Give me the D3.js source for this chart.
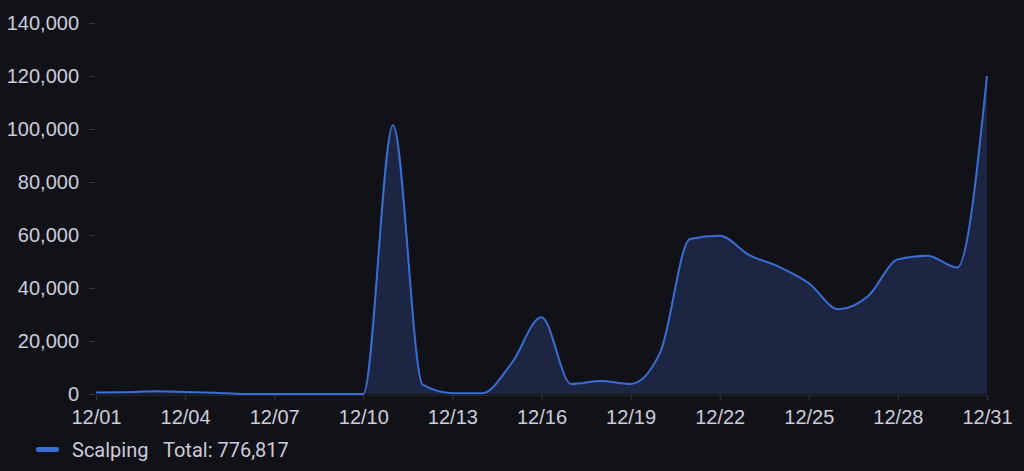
<!DOCTYPE html>
<html><head><meta charset="utf-8">
<script src="https://cdn.jsdelivr.net/npm/d3@7"></script>
<style>
html,body{margin:0;padding:0;background:#111217;}
svg{display:block;font-family:Roboto,Inter,"Noto Sans",sans-serif;}
</style></head>
<body>
<svg id="c" width="1024" height="471"></svg>
<script>
const days = d3.range(1, 32).map(d => "12/" + String(d).padStart(2, "0"));
const scalping = [600, 700, 1000, 800, 500, 0, 0, 0, 0, 0,
  101500, 3500, 300, 300, 11700, 29000, 3800, 4900, 3800, 15800,
  58500, 59700, 52400, 48000, 41800, 32000, 37000, 50800, 52200, 47700,
  120000];
const yTicks = [0, 20000, 40000, 60000, 80000, 100000, 120000, 140000];
const xTickLabels = ["12/01","12/04","12/07","12/10","12/13","12/16","12/19","12/22","12/25","12/28","12/31"];
const seriesName = "Scalping";
const totalLabel = "Total: 776,817";

const svg = d3.select("#c");
const x = d3.scalePoint().domain(days).range([96, 987]);
const y = d3.scaleLinear().domain([0, 140000]).range([394, 23]);

const data = days.map((d, i) => ({d, v: scalping[i]}));
const area = d3.area().x(p => x(p.d)).y0(y(0)).y1(p => y(p.v)).curve(d3.curveMonotoneX);
const line = d3.line().x(p => x(p.d)).y(p => y(p.v)).curve(d3.curveMonotoneX);

svg.append("path").datum(data).attr("d", area).attr("fill", "#1c2643");
svg.append("path").datum(data).attr("d", line).attr("fill", "none")
  .attr("stroke", "#3a6dd3").attr("stroke-width", 2);

// Y axis
const gy = svg.append("g").attr("transform", "translate(95,0)")
  .call(d3.axisLeft(y).tickValues(yTicks).tickSize(6).tickPadding(10).tickFormat(d3.format(",")));
gy.select(".domain").remove();
gy.selectAll(".tick line").attr("stroke", "#35373f");
gy.selectAll(".tick text").attr("fill", "#ccccdc").attr("font-size", 20);

// X axis
const gx = svg.append("g").attr("transform", "translate(0,395)")
  .call(d3.axisBottom(x).tickValues(xTickLabels).tickSize(6).tickPadding(9));
gx.select(".domain").attr("stroke", "#24262c");
gx.selectAll(".tick line").attr("stroke", "#35373f");
gx.selectAll(".tick text").attr("fill", "#ccccdc").attr("font-size", 20);

// Legend
svg.append("rect").attr("x", 36).attr("y", 447).attr("width", 23).attr("height", 5)
  .attr("rx", 2).attr("fill", "#3a6dd3");
svg.append("text").attr("x", 72).attr("y", 457).attr("fill", "#ccccdc").attr("font-size", 20).text(seriesName);
svg.append("text").attr("x", 163).attr("y", 457).attr("fill", "#ccccdc").attr("font-size", 20).text(totalLabel);
</script>
</body></html>
